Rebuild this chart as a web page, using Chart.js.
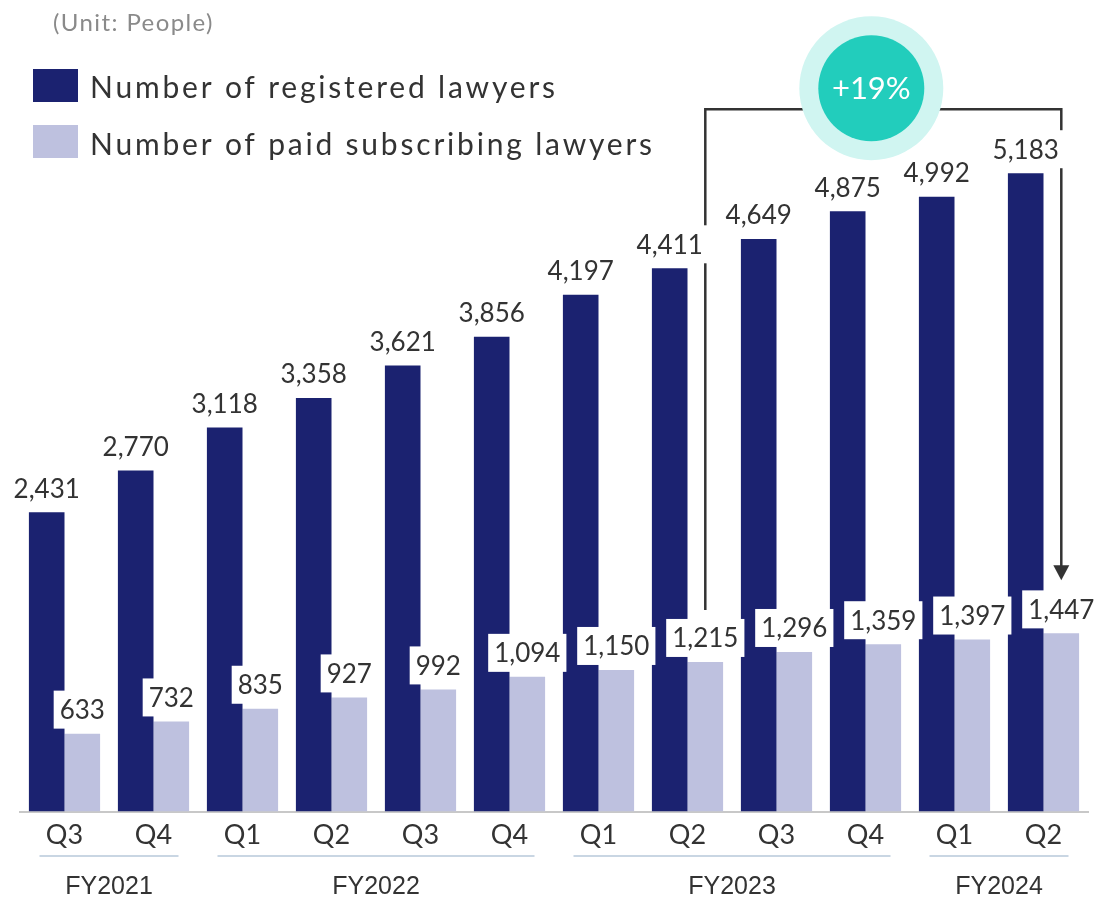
<!DOCTYPE html>
<html>
<head>
<meta charset="utf-8">
<script src="https://cdn.jsdelivr.net/npm/chart.js@4"></script>
<style>
html, body { margin: 0; padding: 0; background: #fff; }
#grafico { display: block; }
</style>
</head>
<body>
<canvas id="grafico" width="1114" height="898"></canvas>
<script>
// datos
const trimestres = ['Q3', 'Q4', 'Q1', 'Q2', 'Q3', 'Q4', 'Q1', 'Q2', 'Q3', 'Q4', 'Q1', 'Q2'];
const registrados = [2431, 2770, 3118, 3358, 3621, 3856, 4197, 4411, 4649, 4875, 4992, 5183];
const suscritos = [633, 732, 835, 927, 992, 1094, 1150, 1215, 1296, 1359, 1397, 1447];
const anios = ['FY2021', 'FY2022', 'FY2023', 'FY2024'];
const aniosDesde = [0, 2, 6, 10];
const aniosHasta = [1, 5, 9, 11];
const crecimiento = '+19%';
const inicioFlecha = 7;
const finFlecha = 11;

const colorOscuro = '#1b2270';
const colorClaro = '#bec1df';
const fuenteTexto = 'Lato, "Noto Sans", sans-serif';
const fuenteEje = '"Liberation Sans", Arial, sans-serif';

function cajaEtiqueta(ctx, el, valor) {
    const texto = valor.toLocaleString('en-US');
    ctx.font = '26px ' + fuenteTexto;
    const ancho = ctx.measureText(texto).width + 12;
    const alto = 38;
    const abajo = el.y - 5;
    ctx.fillStyle = '#ffffff';
    ctx.fillRect(el.x - ancho / 2, abajo - alto, ancho, alto);
    ctx.fillStyle = '#333333';
    ctx.textAlign = 'center';
    ctx.textBaseline = 'middle';
    ctx.fillText(texto, el.x, abajo - alto / 2 + 1);
    return abajo - alto;
}

const pluginEtiquetas = {
    id: 'etiquetas',
    afterDatasetsDraw(chart) {
        const ctx = chart.ctx;
        const barrasReg = chart.getDatasetMeta(0).data;
        const barrasSus = chart.getDatasetMeta(1).data;
        ctx.save();

        // flecha de crecimiento
        const xIni = barrasSus[inicioFlecha].x;
        const xFin = barrasSus[finFlecha].x;
        const yArriba = barrasReg[finFlecha].y - 64;
        const topeIni = barrasSus[inicioFlecha].y - 5 - 38 - 9;
        const topeFin = barrasSus[finFlecha].y - 5 - 38 - 10;
        ctx.strokeStyle = '#333333';
        ctx.lineWidth = 2.5;
        ctx.beginPath();
        ctx.moveTo(xIni, topeIni);
        ctx.lineTo(xIni, yArriba);
        ctx.lineTo(xFin, yArriba);
        ctx.lineTo(xFin, topeFin - 12);
        ctx.stroke();
        ctx.fillStyle = '#333333';
        ctx.beginPath();
        ctx.moveTo(xFin - 8, topeFin - 15);
        ctx.lineTo(xFin + 8, topeFin - 15);
        ctx.lineTo(xFin, topeFin);
        ctx.closePath();
        ctx.fill();

        // etiquetas de valores
        barrasReg.forEach((el, i) => cajaEtiqueta(ctx, el, registrados[i]));
        barrasSus.forEach((el, i) => cajaEtiqueta(ctx, el, suscritos[i]));

        // circulo
        const cx = (xIni + xFin) / 2 - 12;
        const cy = yArriba - 21;
        ctx.fillStyle = '#d0f5f1';
        ctx.beginPath();
        ctx.arc(cx, cy, 72, 0, Math.PI * 2);
        ctx.fill();
        ctx.fillStyle = '#22cdbc';
        ctx.beginPath();
        ctx.arc(cx, cy, 53, 0, Math.PI * 2);
        ctx.fill();
        ctx.fillStyle = '#ffffff';
        ctx.font = '31px ' + fuenteTexto;
        ctx.textAlign = 'center';
        ctx.textBaseline = 'middle';
        ctx.fillText(crecimiento, cx, cy + 1);
        ctx.restore();
    }
};

const pluginDecoracion = {
    id: 'decoracion',
    afterDraw(chart) {
        const ctx = chart.ctx;
        const escalaX = chart.scales.x;
        ctx.save();

        // unidad y leyenda
        ctx.textAlign = 'left';
        ctx.textBaseline = 'middle';
        ctx.fillStyle = '#8a8a8a';
        ctx.font = '24px ' + fuenteTexto;
        ctx.letterSpacing = '1.4px';
        ctx.fillText('(Unit: People)', 53, 23);

        ctx.fillStyle = colorOscuro;
        ctx.fillRect(33, 69, 45, 33);
        ctx.fillStyle = colorClaro;
        ctx.fillRect(33, 125, 45, 33);
        ctx.fillStyle = '#333333';
        ctx.font = '30px ' + fuenteTexto;
        ctx.letterSpacing = '2.8px';
        ctx.fillText(chart.data.datasets[0].label, 90, 88);
        ctx.fillText(chart.data.datasets[1].label, 90, 145);
        ctx.letterSpacing = '0px';

        // anios fiscales
        anios.forEach((anio, i) => {
            const x1 = escalaX.getPixelForValue(aniosDesde[i]) - 25;
            const x2 = escalaX.getPixelForValue(aniosHasta[i]) + 25;
            ctx.strokeStyle = '#c9d6e3';
            ctx.lineWidth = 2;
            ctx.beginPath();
            ctx.moveTo(x1, 856);
            ctx.lineTo(x2, 856);
            ctx.stroke();
            ctx.fillStyle = '#333333';
            ctx.font = '25px ' + fuenteEje;
            ctx.textAlign = 'center';
            ctx.fillText(anio, (x1 + x2) / 2, 887);
        });
        ctx.restore();
    }
};

new Chart(document.getElementById('grafico').getContext('2d'), {
    type: 'bar',
    data: {
        labels: trimestres,
        datasets: [
            {
                label: 'Number of registered lawyers',
                data: registrados,
                backgroundColor: colorOscuro,
                categoryPercentage: 0.8,
                barPercentage: 1.0
            },
            {
                label: 'Number of paid subscribing lawyers',
                data: suscritos,
                backgroundColor: colorClaro,
                categoryPercentage: 0.8,
                barPercentage: 1.0
            }
        ]
    },
    options: {
        responsive: false,
        animation: false,
        devicePixelRatio: 1,
        layout: {
            padding: { left: 20, right: 26, top: 11, bottom: 48 }
        },
        plugins: {
            legend: { display: false },
            tooltip: { enabled: false }
        },
        scales: {
            x: {
                grid: { display: false },
                border: { color: '#c8c8c8', width: 2 },
                ticks: {
                    color: '#333333',
                    padding: -1,
                    font: { family: fuenteTexto, size: 27 }
                }
            },
            y: {
                display: false,
                min: 0,
                max: 6500
            }
        }
    },
    plugins: [pluginEtiquetas, pluginDecoracion]
});
</script>
</body>
</html>
